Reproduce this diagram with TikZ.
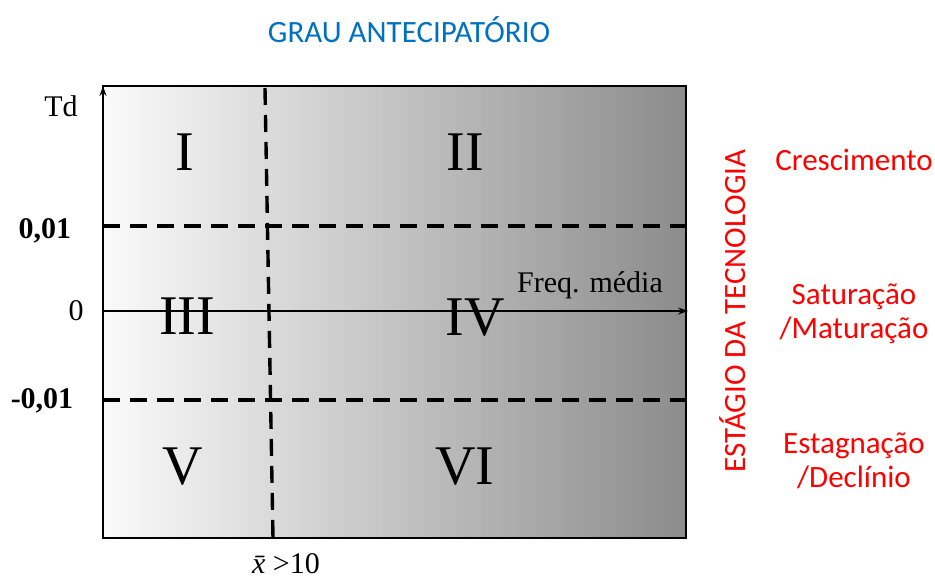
\documentclass[tikz,border=0pt]{standalone}
\usepackage{fontspec}
\setmainfont{Liberation Serif}
\newfontfamily\calibri{Carlito}
\usepackage{xcolor}
\usepackage{tikz}
\usetikzlibrary{arrows.meta,positioning,calc}
\definecolor{grauBlue}{RGB}{0,112,192}
\definecolor{stageRed}{RGB}{255,0,0}
\definecolor{shadeLight}{RGB}{250,250,250}
\definecolor{shadeMid}{RGB}{206,206,206}
\definecolor{shadeDark}{RGB}{140,140,140}
\tikzset{
  limitline/.style={black, line width=3.4pt, dash pattern=on 17pt off 10pt},
  axisline/.style={black, line width=1.3pt, -{Stealth[length=10pt,width=7pt]}},
  roman/.style={font=\fontsize{56}{60}\selectfont},
  ticklab/.style={font=\fontsize{30}{32}\selectfont},
  stagelab/.style={text=stageRed, font=\calibri\fontsize{31}{34}\selectfont, align=center}
}
\begin{document}
\begin{tikzpicture}[x=1pt, y=-1pt]
\useasboundingbox (0,0) rectangle (935,583);
% shaded quadrant area
\shade[left color=shadeLight, middle color=shadeMid, right color=shadeDark] (103,86) rectangle (686,538);
\draw[black, line width=1.4pt] (103,86) rectangle (686,538);
% limits
\coordinate (upL) at (103,226);
\coordinate (upR) at (686,226);
\coordinate (loL) at (103,400);
\coordinate (loR) at (686,400);
\coordinate (vT) at (265,88);
\coordinate (vB) at (273,538);
\draw[limitline] (upL) -- (upR);
\draw[limitline] (loL) -- (loR);
\draw[limitline] (vT) -- (vB);
% axes
\coordinate (origin) at (103,311);
\coordinate (yTop) at (103,86);
\coordinate (yBot) at (103,538);
\coordinate (xEnd) at (688,311);
\draw[axisline] (yBot) -- (yTop);
\draw[axisline] (origin) -- (xEnd);
\node[font=\fontsize{30}{32}\selectfont] (td) at (61,106) {Td};
\node[ticklab, font=\bfseries\fontsize{30}{32}\selectfont] (pos) at (45,231) {0,01};
\node[ticklab] (zero) at (76,311) {0};
\node[ticklab, font=\bfseries\fontsize{30}{32}\selectfont] (neg) at (42,401) {-0,01};
\node[font=\fontsize{30}{32}\selectfont] (freq) at (590,285) {Freq. média};
\node[font=\fontsize{30}{32}\selectfont, inner sep=0pt, anchor=base] (xbar) at (286,573) {{\itshape\=x} >10};
% quadrants
\node[roman] (qI) at (185,152) {I};
\node[roman] (qII) at (465,152) {II};
\node[roman] (qIII) at (187,316) {III};
\node[roman] (qIV) at (475,318) {IV};
\node[roman] (qV) at (183,467) {V};
\node[roman] (qVI) at (465,467) {VI};
% labels outside
\node[text=grauBlue, font=\calibri\fontsize{31}{33}\selectfont] (grau) at (409,30) {GRAU ANTECIPATÓRIO};
\node[text=stageRed, font=\calibri\fontsize{31}{33}\selectfont, rotate=90] (stage) at (733,311) {ESTÁGIO DA TECNOLOGIA};
\node[stagelab] (cresc) at (854,160) {Crescimento};
\node[stagelab] (satur) at (854,314) {Saturação\\/Maturação};
\node[stagelab] (estag) at (854,461) {Estagnação\\/Declínio};
\end{tikzpicture}
\end{document}
